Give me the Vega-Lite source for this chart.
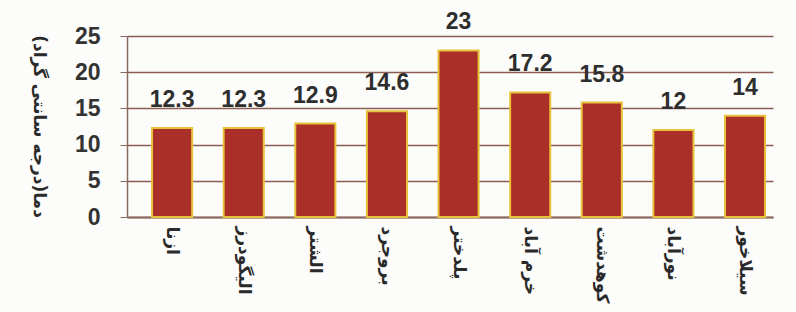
{
  "$schema": "https://vega.github.io/schema/vega-lite/v6.json",
  "width": 646,
  "height": 181,
  "autosize": {"type": "none"},
  "padding": {"left": 127, "top": 36, "right": 23, "bottom": 95},
  "background": "#fcfcfa",
  "data": {
    "values": [
      {"city": "ازنا", "temp": 12.3},
      {"city": "الیگودرز", "temp": 12.3},
      {"city": "الشتر", "temp": 12.9},
      {"city": "بروجرد", "temp": 14.6},
      {"city": "پلدختر", "temp": 23},
      {"city": "خرم آباد", "temp": 17.2},
      {"city": "کوهدشت", "temp": 15.8},
      {"city": "نورآباد", "temp": 12},
      {"city": "سیلاخور", "temp": 14}
    ]
  },
  "config": {
    "view": {"stroke": null}
  },
  "encoding": {
    "x": {
      "field": "city",
      "type": "nominal",
      "sort": null,
      "scale": {"paddingInner": 0.44, "paddingOuter": 0.23, "align": 0.76},
      "axis": {
        "title": null,
        "labelAngle": 90,
        "labelAlign": "left",
        "labelBaseline": "middle",
        "labelFont": "DejaVu Sans",
        "labelFontSize": 17,
        "labelFontWeight": "bold",
        "labelColor": "#2a2a2a",
        "labelPadding": 9,
        "ticks": false,
        "domainColor": "#8a6a60",
        "domainWidth": 2
      }
    },
    "y": {
      "field": "temp",
      "type": "quantitative",
      "scale": {"domain": [0, 25], "nice": false},
      "axis": {
        "values": [0, 5, 10, 15, 20, 25],
        "title": "دما(درجه سانتی گراد)",
        "titleFont": "DejaVu Sans",
        "titleFontSize": 17,
        "titleFontWeight": "bold",
        "titleColor": "#2a2a2a",
        "titleAngle": 90,
        "titleX": -89,
        "titleY": 90,
        "titleAlign": "center",
        "titleBaseline": "middle",
        "labelFont": "Liberation Sans",
        "labelFontSize": 23,
        "labelFontWeight": "bold",
        "labelColor": "#333",
        "labelPadding": 20,
        "tickSize": 7,
        "tickColor": "#8a6a60",
        "grid": true,
        "gridColor": "#8a5c52",
        "gridWidth": 1.5,
        "domainColor": "#8a6a60",
        "domainWidth": 1.5
      }
    }
  },
  "layer": [
    {
      "mark": {"type": "bar", "color": "#a92f28", "stroke": "#e8c23a", "strokeWidth": 2}
    },
    {
      "mark": {
        "type": "text",
        "baseline": "bottom",
        "dy": -16,
        "font": "Liberation Sans",
        "fontSize": 23,
        "fontWeight": "bold",
        "color": "#2e2e2e"
      },
      "encoding": {"text": {"field": "temp", "type": "quantitative"}}
    }
  ]
}
